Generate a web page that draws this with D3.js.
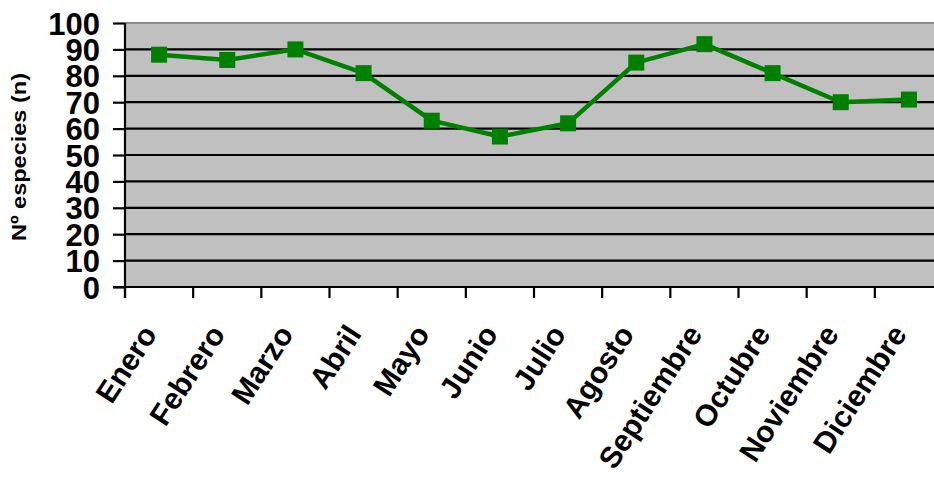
<!DOCTYPE html>
<html>
<head>
<meta charset="utf-8">
<script src="https://cdn.jsdelivr.net/npm/d3@7"></script>
<style>
  html, body { margin: 0; padding: 0; background: #fff; }
  svg { display: block; }
  text { font-family: "Liberation Sans", Arial, sans-serif; font-weight: bold; fill: #000; }
</style>
</head>
<body>
<svg id="chart" width="934" height="480"></svg>
<script>
// Monthly species counts
const months = ["Enero", "Febrero", "Marzo", "Abril", "Mayo", "Junio",
                "Julio", "Agosto", "Septiembre", "Octubre", "Noviembre", "Diciembre"];
const especies = [88, 86, 90, 81, 63, 57, 62, 85, 92, 81, 70, 71];
const yTicks = [0, 10, 20, 30, 40, 50, 60, 70, 80, 90, 100];
const yTitle = "Nº especies (n)";

const svg = d3.select("#chart");
const plot = { left: 125, right: 943, top: 23, bottom: 287 };

const x = d3.scaleBand().domain(months).range([plot.left, plot.right]).paddingInner(0).paddingOuter(0);
const y = d3.scaleLinear().domain([0, 100]).range([plot.bottom, plot.top]);

// plot background
svg.append("rect")
  .attr("x", plot.left).attr("y", plot.top)
  .attr("width", plot.right - plot.left).attr("height", plot.bottom - plot.top)
  .attr("fill", "#c0c0c0");

// horizontal gridlines
svg.append("g").selectAll("line")
  .data(yTicks.filter(d => d > 0))
  .join("line")
  .attr("x1", plot.left).attr("x2", plot.right)
  .attr("y1", d => y(d)).attr("y2", d => y(d))
  .attr("stroke", d => d === 100 ? "#8c8c8c" : "#000")
  .attr("stroke-width", 2.2);

// y axis
const yAxis = svg.append("g")
  .attr("transform", `translate(${plot.left},0)`)
  .call(d3.axisLeft(y).tickValues(yTicks).tickSize(12).tickPadding(13).tickFormat(d3.format("d")));
yAxis.select(".domain").attr("stroke", "#000").attr("stroke-width", 2.2)
  .attr("d", `M0,${plot.top}V${plot.bottom + 11}`);
yAxis.selectAll(".tick line").attr("stroke", "#000").attr("stroke-width", 2.2);
yAxis.selectAll(".tick text")
  .attr("font-size", 31).attr("font-family", "Liberation Sans, Arial, sans-serif")
  .attr("font-weight", "bold").attr("fill", "#000").attr("dy", "0.36em");

// x axis with ticks at category boundaries
const xAxis = svg.append("g").attr("transform", `translate(0,${plot.bottom})`);
xAxis.append("line")
  .attr("x1", plot.left - 12).attr("x2", plot.right)
  .attr("y1", 0).attr("y2", 0)
  .attr("stroke", "#000").attr("stroke-width", 2.2);
xAxis.selectAll("line.tk")
  .data(months)
  .join("line").attr("class", "tk")
  .attr("x1", d => x(d)).attr("x2", d => x(d))
  .attr("y1", 0).attr("y2", 11)
  .attr("stroke", "#000").attr("stroke-width", 2.2);

// rotated month labels
svg.append("g").selectAll("text")
  .data(months)
  .join("text")
  .attr("transform", d => `translate(${x(d) + x.bandwidth() / 2 - 1},334) rotate(-57)`)
  .attr("text-anchor", "end")
  .attr("font-size", 30)
  .text(d => d);

// y axis title
svg.append("text")
  .attr("transform", `translate(26,157) rotate(-90)`)
  .attr("text-anchor", "middle")
  .attr("font-size", 20)
  .attr("textLength", 168)
  .attr("lengthAdjust", "spacingAndGlyphs")
  .text(yTitle);

// series line and square markers
const cx = d => x(d) + x.bandwidth() / 2;
const line = d3.line().x((d, i) => cx(months[i])).y(d => y(d));
svg.append("path")
  .datum(especies)
  .attr("d", line)
  .attr("fill", "none")
  .attr("stroke", "#008000")
  .attr("stroke-width", 4.5)
  .attr("stroke-linejoin", "round");

const m = 16;
svg.append("g").selectAll("rect")
  .data(especies)
  .join("rect")
  .attr("x", (d, i) => cx(months[i]) - m / 2)
  .attr("y", d => y(d) - m / 2)
  .attr("width", m).attr("height", m)
  .attr("fill", "#008000");
</script>
</body>
</html>
